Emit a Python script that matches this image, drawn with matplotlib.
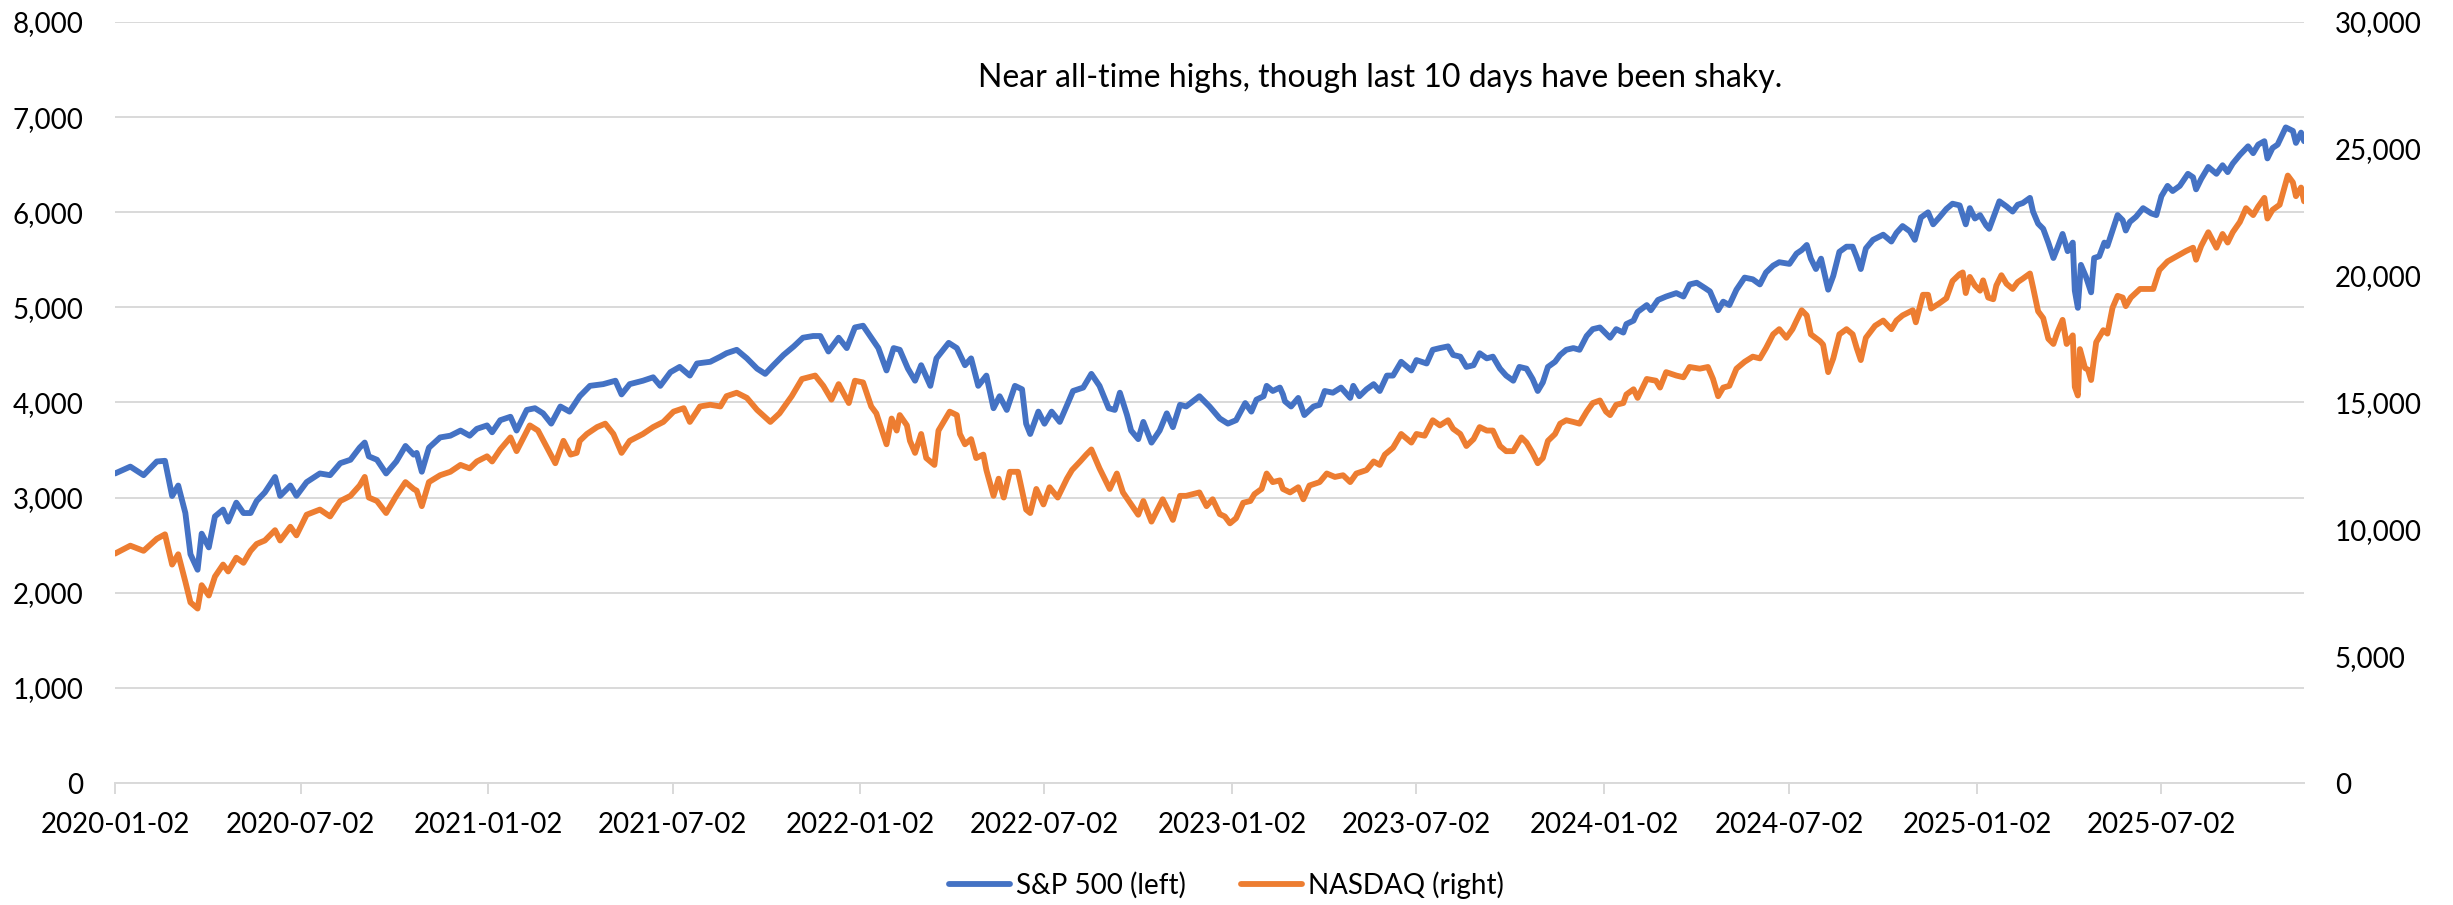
import matplotlib
matplotlib.use("Agg")
import matplotlib.pyplot as plt
import matplotlib.dates as mdates
from matplotlib.ticker import FuncFormatter
import pandas as pd

# day offsets from 2020-01-02
sp_days = [0, 15, 28, 41, 49, 56, 62, 69, 74, 81, 85, 92, 98, 106, 111, 119, 126, 133, 139, 147,
           157, 162, 172, 178, 188, 201, 211, 221, 231, 240, 245, 249, 257, 266, 276, 285, 293, 296,
           301, 308, 319, 329, 339, 348, 355, 365,
           370, 378, 388, 394, 404, 412, 420, 428, 437, 446, 456, 466, 479, 491, 497, 505, 518, 528,
           535, 545, 554, 564, 571, 584, 594, 600, 610, 620, 630, 638, 646, 656, 666, 675, 685, 692,
           700, 710, 718,
           726, 734, 742, 749, 757, 764, 770, 778, 785, 791, 800, 806, 818, 826, 834, 840, 847, 855,
           862, 868, 875, 883, 890, 894, 898, 906, 912, 919, 927, 935, 940, 950, 958, 966, 975, 981,
           986, 993, 997, 1004, 1009, 1017, 1025, 1032, 1038, 1045, 1051, 1064, 1074,
           1084, 1092, 1100, 1109, 1115, 1120, 1127, 1130, 1136, 1143, 1146, 1148, 1154, 1161, 1167,
           1176, 1182, 1187, 1195, 1203, 1212, 1215, 1221, 1228, 1235, 1241, 1248, 1254, 1262, 1272,
           1277, 1287, 1293, 1300, 1308, 1313, 1320, 1326, 1333, 1339, 1346, 1352, 1359, 1365, 1372,
           1378, 1385, 1391, 1396, 1401, 1406, 1413, 1418, 1424, 1431, 1437, 1444, 1450, 1457,
           1467, 1473, 1480, 1483, 1490, 1494, 1503, 1507, 1514, 1522, 1532, 1539, 1545, 1552, 1560,
           1565, 1573, 1578, 1584, 1591, 1599, 1607, 1614, 1620, 1627, 1633, 1643, 1650, 1655, 1660,
           1664, 1669, 1674, 1681, 1686, 1692, 1699, 1705, 1709, 1713, 1718, 1725, 1735, 1743, 1748,
           1754, 1761, 1766, 1772, 1779, 1784, 1790, 1797, 1803, 1810, 1816,
           1820, 1825, 1830, 1836, 1839, 1844, 1849, 1856, 1862, 1867, 1872, 1879, 1882, 1887, 1892,
           1897, 1902, 1906, 1911, 1916, 1921, 1923, 1926, 1929, 1934, 1939, 1942, 1947, 1952, 1955,
           1960, 1965, 1970, 1973, 1977, 1983, 1990, 1998, 2003, 2008, 2014, 2019, 2026, 2034, 2039,
           2042, 2047, 2054, 2062, 2068, 2073, 2078, 2085, 2093, 2098, 2103, 2109, 2112, 2117, 2122,
           2130, 2137, 2140, 2145, 2148]
sp_vals = [3254, 3326, 3236, 3380, 3387, 3017, 3127, 2838, 2405, 2242, 2621, 2477, 2802, 2874, 2748,
           2947, 2838, 2838, 2965, 3055, 3217, 3018, 3127, 3019, 3163, 3254, 3236, 3362, 3398, 3525,
           3579, 3434, 3398, 3254, 3380, 3543, 3452, 3470, 3272, 3525, 3633, 3651, 3705, 3651, 3723,
           3759,
           3687, 3814, 3850, 3705, 3922, 3940, 3886, 3778, 3958, 3904, 4066, 4175, 4193, 4229, 4085,
           4193, 4229, 4265, 4175, 4319, 4374, 4283, 4410, 4428, 4482, 4518, 4554, 4464, 4356, 4301,
           4392, 4500, 4590, 4681, 4699, 4699, 4536, 4681, 4572,
           4789, 4807, 4681, 4572, 4337, 4572, 4554, 4356, 4229, 4392, 4175, 4464, 4627, 4572, 4392,
           4464, 4175, 4283, 3940, 4066, 3922, 4175, 4139, 3777, 3669, 3904, 3777, 3904, 3796, 3994,
           4121, 4157, 4301, 4175, 3940, 3922, 4103, 3868, 3705, 3615, 3796, 3578, 3705, 3886, 3741,
           3976, 3958, 4066, 3958,
           3832, 3778, 3814, 3994, 3904, 4030, 4066, 4175, 4121, 4157, 4085, 4012, 3958, 4048, 3868,
           3958, 3976, 4121, 4103, 4157, 4048, 4175, 4066, 4139, 4193, 4121, 4283, 4283, 4428, 4337,
           4446, 4410, 4554, 4572, 4590, 4500, 4482, 4374, 4392, 4518, 4464, 4482, 4356, 4283, 4229,
           4374, 4356, 4247, 4121, 4211, 4374, 4428, 4500, 4554, 4572, 4554, 4699, 4771, 4789,
           4681, 4771, 4735, 4825, 4861, 4952, 5024, 4970, 5078, 5114, 5150, 5114, 5241, 5259, 5204,
           5168, 4970, 5060, 5024, 5186, 5313, 5295, 5241, 5367, 5439, 5475, 5457, 5566, 5602, 5656,
           5512, 5403, 5512, 5186, 5331, 5584, 5638, 5638, 5530, 5403, 5620, 5710, 5764, 5692, 5783,
           5855, 5801, 5710, 5945, 5999, 5873, 5945, 6035, 6090, 6072, 5873,
           6043, 5934, 5970, 5862, 5826, 5970, 6115, 6061, 6007, 6079, 6097, 6151, 6007, 5880, 5826,
           5681, 5519, 5627, 5772, 5591, 5681, 5176, 4995, 5447, 5320, 5158, 5519, 5537, 5681, 5645,
           5808, 5970, 5916, 5808, 5898, 5952, 6043, 5988, 5970, 6169, 6277, 6223, 6277, 6404, 6368,
           6241, 6350, 6476, 6404, 6494, 6422, 6512, 6603, 6693, 6621, 6711, 6747, 6566, 6675, 6711,
           6892, 6855, 6729, 6837, 6747]

nq_days = [0, 15, 28, 41, 49, 56, 62, 69, 74, 81, 85, 92, 98, 106, 111, 119, 126, 133, 139, 147,
           157, 162, 172, 178, 188, 201, 211, 221, 231, 240, 245, 249, 257, 266, 276, 285, 293, 296,
           301, 308, 319, 329, 339, 348, 355, 365,
           370, 378, 388, 394, 407, 415, 424, 432, 440, 447, 453, 456, 463, 473, 481, 489, 497, 505,
           518, 528, 538, 548, 558, 564, 574, 584, 594, 600, 610, 620, 630, 643, 652, 664, 674, 687,
           695, 703, 710, 720,
           726, 734, 742, 747, 757, 762, 767, 770, 777, 780, 785, 791, 796, 804, 808, 819, 826, 829,
           834, 840, 845, 852, 855, 862, 867, 872, 878, 886, 894, 898, 904, 911, 917, 925, 934, 939,
           947, 953, 958, 966, 976, 983, 989, 997, 1004, 1009, 1017, 1022, 1028, 1038, 1045, 1051,
           1064, 1071, 1077,
           1084, 1089, 1094, 1100, 1107, 1114, 1118, 1125, 1130, 1136, 1143, 1146, 1153, 1161, 1166,
           1172, 1182, 1189, 1197, 1205, 1212, 1218, 1228, 1235, 1241, 1246, 1254, 1262, 1272, 1277,
           1285, 1293, 1300, 1308, 1313, 1320, 1326, 1333, 1339, 1346, 1352, 1359, 1365, 1372, 1380,
           1385, 1391, 1396, 1401, 1406, 1413, 1418, 1424, 1431, 1437, 1444, 1450, 1457,
           1463, 1467, 1473, 1480, 1483, 1490, 1494, 1503, 1512, 1516, 1522, 1532, 1539, 1545, 1555,
           1563, 1568, 1573, 1578, 1584, 1591, 1599, 1607, 1614, 1620, 1627, 1633, 1640, 1646, 1650,
           1655, 1660, 1664, 1673, 1676, 1681, 1686, 1692, 1699, 1705, 1709, 1713, 1718, 1727, 1735,
           1743, 1748, 1754, 1764, 1767, 1774, 1779, 1782, 1790, 1797, 1803, 1810, 1813, 1816,
           1820, 1825, 1830, 1833, 1838, 1843, 1846, 1851, 1856, 1862, 1867, 1872, 1879, 1882, 1887,
           1892, 1897, 1902, 1906, 1911, 1915, 1921, 1923, 1926, 1928, 1933, 1936, 1939, 1944, 1951,
           1955, 1960, 1965, 1970, 1973, 1978, 1987, 1993, 2000, 2006, 2014, 2023, 2032, 2039, 2042,
           2047, 2054, 2062, 2068, 2073, 2078, 2085, 2091, 2098, 2103, 2109, 2112, 2117, 2124, 2132,
           2137, 2140, 2145, 2148]
nq_vals = [9044, 9356, 9153, 9627, 9803, 8611, 9017, 7933, 7120, 6877, 7798, 7391, 8136, 8611, 8340,
           8882, 8679, 9153, 9424, 9560, 9966, 9560, 10102, 9763, 10576, 10779, 10508, 11117, 11320,
           11727, 12066, 11253, 11117, 10643, 11320, 11862, 11591, 11523, 10914, 11862, 12133, 12269,
           12540, 12404, 12675, 12879,
           12675, 13150, 13624, 13082, 14098, 13895, 13218, 12607, 13489, 12946, 13014, 13489, 13760,
           14031, 14166, 13760, 13014, 13489, 13760, 14031, 14234, 14640, 14776, 14234, 14844, 14911,
           14844, 15250, 15385, 15182, 14708, 14234, 14573, 15250, 15926, 16062, 15656, 15114, 15724,
           14979,
           15859, 15791, 14843, 14572, 13353, 14368, 13894, 14504, 14098, 13488, 13014, 13759, 12810,
           12539, 13894, 14640, 14504, 13759, 13353, 13556, 12810, 12946, 12336, 11320, 11997, 11253,
           12268, 12268, 10778, 10643, 11591, 10982, 11659, 11253, 11997, 12336, 12675, 12946, 13149,
           12404, 11591, 12200, 11455, 10982, 10575, 11117, 10304, 10711, 11185, 10372, 11320, 11320,
           11455, 10914, 11185,
           10600, 10507, 10236, 10439, 11049, 11117, 11388, 11591, 12201, 11862, 11930, 11591, 11455,
           11659, 11185, 11727, 11862, 12201, 12065, 12133, 11862, 12201, 12336, 12675, 12539, 12946,
           13217, 13759, 13420, 13759, 13691, 14301, 14098, 14301, 13962, 13759, 13285, 13556, 14030,
           13894, 13894, 13285, 13081, 13081, 13623, 13420, 13014, 12607, 12810, 13488, 13759, 14166,
           14301, 14233, 14166, 14640, 14979, 15080,
           14640, 14504, 14911, 14979, 15317, 15521, 15182, 15927, 15859, 15588, 16197, 16062, 15994,
           16400, 16333, 16400, 15927, 15249, 15588, 15656, 16333, 16604, 16807, 16739, 17146, 17688,
           17891, 17552, 17891, 18230, 18636, 18433, 17688, 17417, 17281, 16197, 16739, 17688, 17891,
           17688, 17146, 16672, 17552, 18026, 18230, 17891, 18230, 18433, 18636, 18162, 19246, 19246,
           18704, 18907, 19111, 19788, 20059, 20127, 19314,
           19950, 19611, 19408, 19815, 19137, 19070, 19611, 20018, 19679, 19476, 19747, 19882, 20086,
           19544, 18595, 18325, 17512, 17308, 17783, 18257, 17308, 17647, 15614, 15276, 17105, 16360,
           16292, 15886, 17376, 17850, 17715, 18731, 19205, 19137, 18799, 19137, 19476, 19476, 19476,
           20221, 20560, 20763, 20967, 21102, 20628, 21170, 21712, 21102, 21644, 21305, 21712, 22118,
           22660, 22389, 22728, 23066, 22253, 22592, 22795, 23947, 23676, 23134, 23473, 22931]

start = pd.Timestamp("2020-01-02")
sp_dates = start + pd.to_timedelta(sp_days, unit="D")
nq_dates = start + pd.to_timedelta(nq_days, unit="D")
tick_dates = pd.to_datetime(["2020-01-02", "2020-07-02", "2021-01-02", "2021-07-02", "2022-01-02",
                             "2022-07-02", "2023-01-02", "2023-07-02", "2024-01-02", "2024-07-02",
                             "2025-01-02", "2025-07-02"])
note = "Near all-time highs, though last 10 days have been shaky."

plt.rcParams["font.family"] = ["Lato", "DejaVu Sans"]
blue = "#4472C4"
orange = "#ED7D31"
grid = "#D9D9D9"

fig = plt.figure(figsize=(24.53, 9.05), dpi=100)
ax = fig.add_axes([0.0469, 0.1348, 0.8924, 0.8409])
ax2 = ax.twinx()

l1, = ax.plot(sp_dates, sp_vals, color=blue, lw=4.2, solid_capstyle="round",
              solid_joinstyle="round", zorder=3)
l2, = ax2.plot(nq_dates, nq_vals, color=orange, lw=4.2, solid_capstyle="round",
               solid_joinstyle="round", zorder=3)

ax.set_ylim(0, 8000)
ax.set_yticks(range(0, 8001, 1000))
ax2.set_ylim(0, 30000)
ax2.set_yticks(range(0, 30001, 5000))
comma = FuncFormatter(lambda v, p: f"{int(v):,}")
ax.yaxis.set_major_formatter(comma)
ax2.yaxis.set_major_formatter(comma)

ax.set_xlim(start, sp_dates[-1])
ax.set_xticks(tick_dates)
ax.xaxis.set_major_formatter(mdates.DateFormatter("%Y-%m-%d"))

ax.grid(axis="y", color=grid, lw=1.4)
ax.set_axisbelow(True)
for a in (ax, ax2):
    for s in ("top", "left", "right", "bottom"):
        a.spines[s].set_visible(False)
ax.spines["bottom"].set_visible(True)
ax.spines["bottom"].set_color(grid)
ax.spines["bottom"].set_linewidth(1.4)

ax.tick_params(axis="y", length=0, pad=23, labelsize=20)
ax2.tick_params(axis="y", length=0, pad=22, labelsize=20)
ax.tick_params(axis="x", length=8, width=1.4, color=grid, pad=13, labelsize=20)

ax.text(0.578, 0.926, note, transform=ax.transAxes, ha="center", va="center", fontsize=23)

fig.legend([l1, l2], ["S&P 500 (left)", "NASDAQ (right)"], loc="center",
           bbox_to_anchor=(0.5, 0.022), ncol=2, frameon=False, fontsize=20,
           handlelength=2.2, columnspacing=2.0, handletextpad=0.2)

fig.savefig("out.png", dpi=100)
